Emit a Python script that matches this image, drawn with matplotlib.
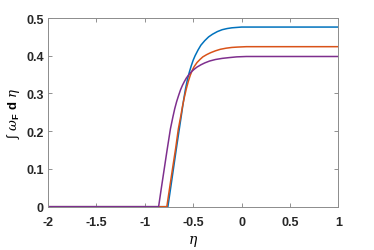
import matplotlib
matplotlib.use("Agg")
import matplotlib.pyplot as plt

# Data
eta_blue = [-2.0, -0.761, -0.73, -0.70, -0.67, -0.643, -0.62, -0.60, -0.58, -0.56, -0.54, -0.52, -0.50, -0.48,
            -0.45, -0.42, -0.38, -0.34, -0.30, -0.25, -0.20, -0.15, -0.10, -0.05, 0.0, 0.1, 1.0]
val_blue = [0.0, 0.0, 0.054, 0.107, 0.160, 0.206, 0.245, 0.280, 0.311, 0.336, 0.356, 0.373, 0.388, 0.400,
            0.415, 0.428, 0.440, 0.450, 0.457, 0.464, 0.469, 0.472, 0.474, 0.475, 0.476, 0.476, 0.476]

eta_orange = [-2.0, -0.772, -0.74, -0.71, -0.68, -0.653, -0.63, -0.61, -0.59, -0.57, -0.55, -0.53, -0.51, -0.49,
              -0.46, -0.43, -0.40, -0.36, -0.32, -0.27, -0.22, -0.16, -0.10, -0.04, 0.05, 1.0]
val_orange = [0.0, 0.0, 0.055, 0.106, 0.156, 0.206, 0.237, 0.266, 0.291, 0.313, 0.332, 0.348, 0.361, 0.371,
              0.382, 0.390, 0.397, 0.403, 0.408, 0.413, 0.417, 0.420, 0.422, 0.423, 0.424, 0.424]

eta_purple = [-2.0, -0.857, -0.83, -0.80, -0.77, -0.735, -0.71, -0.69, -0.67, -0.65, -0.63, -0.61, -0.59, -0.57,
              -0.55, -0.52, -0.49, -0.46, -0.42, -0.38, -0.33, -0.27, -0.20, -0.13, -0.05, 0.05, 1.0]
val_purple = [0.0, 0.0, 0.047, 0.098, 0.149, 0.206, 0.237, 0.260, 0.279, 0.295, 0.310, 0.322, 0.332, 0.341,
              0.348, 0.357, 0.364, 0.370, 0.376, 0.381, 0.386, 0.390, 0.393, 0.395, 0.397, 0.398, 0.398]

xticks = [-2, -1.5, -1, -0.5, 0, 0.5, 1]
xticklabels = ["-2", "-1.5", "-1", "-0.5", "0", "0.5", "1"]
yticks = [0, 0.1, 0.2, 0.3, 0.4, 0.5]
yticklabels = ["0", "0.1", "0.2", "0.3", "0.4", "0.5"]

plt.rcParams['font.family'] = ['Liberation Sans Narrow', 'Liberation Sans', 'DejaVu Sans']
plt.rcParams['mathtext.fontset'] = 'custom'
plt.rcParams['mathtext.rm'] = 'Liberation Sans'
plt.rcParams['mathtext.it'] = 'DejaVu Serif:italic'
plt.rcParams['mathtext.bf'] = 'Liberation Sans:bold'
plt.rcParams['mathtext.fallback'] = 'cm'

fig = plt.figure(figsize=(3.74, 2.51), dpi=100)
ax = fig.add_axes([48/374, 1-207.7/251, (338.3-48)/374, (207.7-19)/251])

ax.plot(eta_blue, val_blue, color='#0072BD', lw=1.1)
ax.plot(eta_orange, val_orange, color='#D95319', lw=1.1)
ax.plot(eta_purple, val_purple, color='#7E2F8E', lw=1.1)

ax.set_xlim(-2, 1)
ax.set_ylim(0, 0.5)
ax.set_xticks(xticks)
ax.set_xticklabels(xticklabels, fontweight='bold', fontsize=9)
ax.set_yticks(yticks)
ax.set_yticklabels(yticklabels, fontweight='bold', fontsize=9)
ax.tick_params(direction='in', length=3, width=0.6, color='#7f7f7f',
               top=True, right=True, pad=3, labelcolor='#262626')
ax.tick_params(axis='x', pad=7)
for s in ax.spines.values():
    s.set_color('#8c8c8c')
    s.set_linewidth(0.7)

ax.set_xlabel(r'$\eta$', fontsize=10, labelpad=3)
ax.set_ylabel(r'$\int\ \omega_{\mathbf{F}}\ \mathbf{d}\ \eta$', fontsize=9.5, labelpad=3)

fig.savefig('out.png', dpi=100)
